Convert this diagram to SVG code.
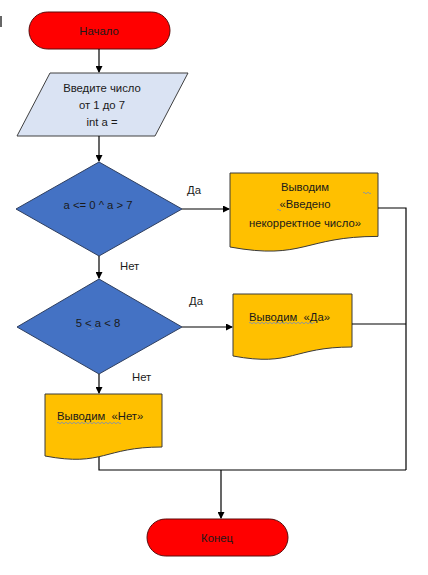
<svg xmlns="http://www.w3.org/2000/svg" width="428" height="575" viewBox="0 0 428 575">
<style>
text{font-family:"Liberation Sans",Arial,sans-serif;font-size:11.3px;fill:#1a1a1a;white-space:pre}
.c{text-anchor:middle}
.term{fill:#ff0000;stroke:#5a0a0a;stroke-width:1}
.io{fill:#dae3f3;stroke:#404040;stroke-width:1}
.dec{fill:#4472c4;stroke:#2f3f5f;stroke-width:1}
.doc{fill:#ffc000;stroke:#3a3a3a;stroke-width:1}
.ln{fill:none;stroke:#000;stroke-width:1.2}
.sq{fill:none;stroke:#7a8fb8;stroke-width:0.8}
</style>
<defs>
<marker id="ah" markerWidth="7" markerHeight="7" refX="6" refY="3.5" orient="auto" markerUnits="userSpaceOnUse">
<path d="M0,0 L7,3.5 L0,7 Z" fill="#000"/>
</marker>
</defs>
<rect x="0" y="16" width="2" height="11" fill="#666"/>
<g id="start">
<rect class="term" x="29" y="12" width="141" height="37" rx="18.5"/>
<text class="c" x="99" y="35">Начало</text>
</g>
<g id="input">
<polygon class="io" points="50,73 188,73 155,136 17,136"/>
<text class="c" x="102" y="92">Введите число</text>
<text class="c" x="102" y="109">от 1 до 7</text>
<text class="c" x="102" y="126">int a =</text>
</g>
<g id="cond1">
<polygon class="dec" points="99,162 182,209 99,256 16,209"/>
<text class="c" x="98" y="209">a &lt;= 0 ^ a &gt; 7</text>
</g>
<g id="out1">
<path class="doc" d="M230,173 H378 V236.4 C304,236.4 304,260.5 230,247 Z"/>
<text class="c" x="305" y="191">Выводим</text>
<text class="c" x="305" y="208">«Введено</text>
<text class="c" x="305" y="227">некорректное число»</text>
<path class="sq" d="M363,193 q1,-1.5 2,0 t2,0 t2,0 t2,0"/>
<path class="sq" d="M277,210 q1,-1.5 2,0 t2,0"/>
</g>
<g id="cond2">
<polygon class="dec" points="99,279 182,327 99,374 17,327"/>
<text class="c" x="98" y="327">5 &lt; a &lt; 8</text>
<path class="sq" d="M88,329 q1,-1.5 2,0 t2,0 t2,0"/>
</g>
<g id="out2">
<path class="doc" d="M233,294 H352 V347 C292.5,347 292.5,367 233,356 Z"/>
<text x="249" y="321" xml:space="preserve">Выводим  «Да»</text>
<path class="sq" d="M249,323 q1,-1.5 2,0 t2,0 t2,0 t2,0 t2,0 t2,0 t2,0 t2,0 t2,0 t2,0 t2,0 t2,0 t2,0 t2,0 t2,0 t2,0 t2,0 t2,0 t2,0 t2,0 t2,0 t2,0 t2,0 t2,0 t2,0 t2,0 t2,0 t2,0 t2,0 t2,0 t2,0 t2,0 t2,0"/>
</g>
<g id="out3">
<path class="doc" d="M45,394 H162 V447 C103.5,447 103.5,467 45,456 Z"/>
<text x="57" y="420" xml:space="preserve">Выводим  «Нет»</text>
<path class="sq" d="M57,423 q1,-1.5 2,0 t2,0 t2,0 t2,0 t2,0 t2,0 t2,0 t2,0 t2,0 t2,0 t2,0 t2,0 t2,0 t2,0 t2,0 t2,0 t2,0 t2,0 t2,0 t2,0 t2,0 t2,0 t2,0 t2,0 t2,0 t2,0 t2,0 t2,0 t2,0 t2,0 t2,0 t2,0"/>
</g>
<g id="end">
<rect class="term" x="147" y="519" width="141" height="37" rx="18.5"/>
<text class="c" x="217" y="542">Конец</text>
</g>
<g id="connectors">
<line class="ln" x1="99" y1="49" x2="99" y2="72" marker-end="url(#ah)"/>
<line class="ln" x1="99" y1="136" x2="99" y2="161" marker-end="url(#ah)"/>
<line class="ln" x1="182" y1="209" x2="229" y2="209" marker-end="url(#ah)"/>
<line class="ln" x1="99" y1="256" x2="99" y2="278" marker-end="url(#ah)"/>
<line class="ln" x1="182" y1="327" x2="232" y2="327" marker-end="url(#ah)"/>
<line class="ln" x1="99" y1="374" x2="99" y2="393" marker-end="url(#ah)"/>
<polyline class="ln" points="378,208 406,208 406,470"/>
<line class="ln" x1="352" y1="324" x2="406" y2="324"/>
<polyline class="ln" points="99,457 99,470 406,470"/>
<line class="ln" x1="221" y1="470" x2="221" y2="518" marker-end="url(#ah)"/>
<text x="187" y="194">Да</text>
<text x="120" y="270">Нет</text>
<text x="189" y="305">Да</text>
<text x="132" y="381">Нет</text>
</g>
</svg>
